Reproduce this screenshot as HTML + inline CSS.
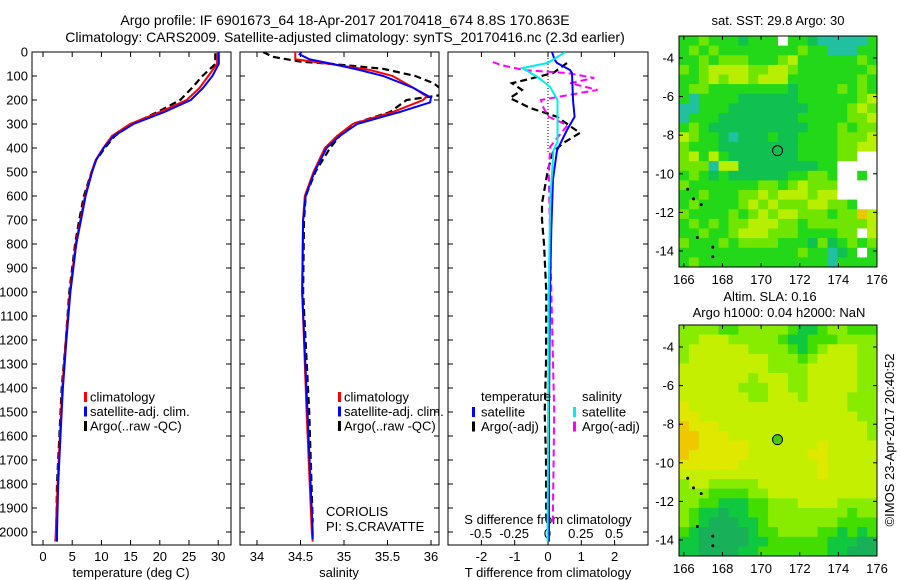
<!DOCTYPE html>
<html><head><meta charset="utf-8"><style>
html,body{margin:0;padding:0;background:#fff;}
svg{display:block;font-family:"Liberation Sans",sans-serif;}
</style></head><body>
<svg id="fig" width="900" height="580" viewBox="0 0 900 580" xmlns="http://www.w3.org/2000/svg">
<defs>
<clipPath id="c1"><rect x="32" y="52" width="199" height="493"/></clipPath>
<clipPath id="c2"><rect x="240" y="52" width="199" height="493"/></clipPath>
<clipPath id="c3"><rect x="448" y="52" width="200" height="493"/></clipPath>
</defs>
<text x="345" y="25" font-size="14" text-anchor="middle">Argo profile: IF 6901673_64 18-Apr-2017 20170418_674 8.8S 170.863E</text>
<text x="345" y="42" font-size="14" text-anchor="middle">Climatology: CARS2009. Satellite-adjusted climatology: synTS_20170416.nc (2.3d earlier)</text>
<g id="g1"></g>
<g id="g2"></g>
<g id="g3"></g>
<g id="m1"></g>
<g id="m2"></g>
</svg>
<script>
// ---------- data ----------
const tClimDepth=[0,50,100,150,200,250,300,350,400,450,500,600,700,800,900,1000,1200,1400,1600,1800,2000,2040];
const tClim=[29.9,29.8,28.3,26.8,24.6,20,14.9,11.8,10.3,9,8.3,7.2,6.4,5.6,5.1,4.6,3.9,3.3,2.9,2.5,2.2,2.1];
const tSat=[30.1,30.1,29.0,27.4,25.3,20.8,15.5,12.1,10.4,9.1,8.4,7.3,6.5,5.7,5.2,4.7,4.0,3.4,3.0,2.6,2.4,2.4];
const tArgoDepth=[5,50,100,150,200,250,300,350,400,450,500,600,700,800,900,1000,1200,1400,1600,1800,1960];
const tArgo=[29.5,29.5,27.3,25.5,23.5,19.6,15.3,12.3,10.6,9.1,8.3,7.0,6.2,5.5,5.0,4.5,3.9,3.2,2.8,2.4,2.3];
const sClimDepth=[0,30,50,75,100,150,185,200,250,300,350,400,500,600,700,1000,1500,2000,2040];
const sClim=[34.44,34.44,34.84,35.3,35.56,35.8,35.95,35.91,35.56,35.1,34.92,34.78,34.65,34.55,34.53,34.52,34.57,34.63,34.64];
const sSatDepth=[0,10,30,50,75,100,150,190,210,250,300,350,400,500,600,700,1000,1500,2000,2030];
const sSat=[34.51,34.49,34.6,34.87,35.18,35.45,35.8,36.0,35.99,35.64,35.15,34.95,34.8,34.66,34.56,34.53,34.52,34.58,34.64,34.64];
const sArgoDepth=[0,20,40,50,70,100,130,150,175,200,250,300,350,400,500,600,700,1000,1500,1960];
const sArgo=[34.07,34.18,34.5,34.87,35.45,35.82,36.03,36.1,36.2,35.72,35.53,35.1,34.95,34.84,34.67,34.56,34.54,34.53,34.6,34.64];
const dTSatDepth=[0,33,46,75,88,200,270,325,410,530,740,1000,1500,2040];
const dTSat=[0.12,0.2,0.27,0.66,0.72,0.75,0.8,0.57,0.27,0.15,0.1,0.06,0.03,0.03];
const dTArgoDepth=[46,88,130,158,192,233,270,317,337,380,417,490,630,700,800,1000,1300,1500,1700,1960];
const dTArgo=[0.57,0.15,-1.08,-0.78,-1.14,-0.54,0.27,0.75,0.96,0.45,0.15,0,-0.18,-0.18,-0.12,-0.05,-0.06,-0.1,-0.06,-0.05];
const dSSatDepth=[0,46,67,104,146,200,375,410,620,1000,2040];
const dSSat=[0.135,0,-0.19,-0.075,0.02,0.075,0.075,0.045,0.02,0.01,0.0];
const dSArgoDepth=[42,54,75,88,108,130,158,200,233,270,305,395,500,800,1500,1960];
const dSArgo=[-0.41,-0.35,-0.18,0.15,0.35,0.17,0.375,-0.05,-0.03,0.01,0.15,0.02,0.01,0.02,0.05,0.04];
const depthTicks=[0,100,200,300,400,500,600,700,800,900,1000,1100,1200,1300,1400,1500,1600,1700,1800,1900,2000];
const tTicks=[0,5,10,15,20,25,30];
const sTicks=[34,34.5,35,35.5,36];
const dTTicks=[-2,-1,0,1,2];
const dSTicks=[-0.5,-0.25,0,0.25,0.5];
const dSTickLabels=["-0.5","-0.25","0","0.25","0.5"];
const lonTicks=[166,168,170,172,174,176];
const latTicks=[-4,-6,-8,-10,-12,-14];
const argoLon=170.85, argoLat=-8.8;
const sstGrid=[
"11211101115110444441","12121111111121144411","11212221112311111121","21233332233211111112",
"11232332333111111121","12211111111011112121","14111100000011111123","44111000000001111232",
"41110000000011111223","12100000000001112122","32110400010011112223","21110000000011112233",
"23131000000011112255","22243300000000115555","12101000000112215515","21111111221232225555",
"11211122323332335555","12111123232223322155","21111212323322212263","12121223332212222223",
"11211233322211112253","21112122221110201212","11111111111121140151","12111111111111141111"];
const slaGrid=[
"ccccbbcccccbaabccbbb","ccdddcccccbaabbbcccc","cddddddccccbabcdddcc","cddddddddcccbcddddcc",
"dddddddddccccdddddcc","dddddddcdddccdddddcc","ddddddcccddccdddddcc","dddddddccdddcddddccc",
"eddddddddddddddddccc","eeddddddddddddddddcc","feeedddddddddddddddc","ffeeeddddddddddddddc",
"ffeeeeedddddddeddddd","feeeeeeddddddeeddddd","eeeeeeddddddddeddddd","ddddddddddddddeddddd",
"cddcccccdddddddddddd","cccbbbbccddddddddddd","ccbbaaabbcccddddcccc","cbaagaabbccccccccbcc",
"cbagggaabcccccccbbbb","bagggggabbccccbbabab","aagggggaabbbbbbaaagg","aaggggaabbbbbbbaaggg"];
// ---------- helpers ----------
const NS="http://www.w3.org/2000/svg";
function mk(parent,tag,attrs,txt){const e=document.createElementNS(NS,tag);for(const k in attrs)e.setAttribute(k,attrs[k]);if(txt!==undefined)e.textContent=txt;parent.appendChild(e);return e;}
const Y=d=>52+d*0.24;
const XT=t=>43+t*5.84;
const XS=s=>257+(s-34)*87;
const XdT=v=>548+v*33.3;
const XdS=v=>547.5+v*133.3;
function line(g,xs,ds,fx,color,dash,clip,name,w){
  const pts=xs.map((v,i)=>fx(v).toFixed(1)+","+Y(ds[i]).toFixed(1)).join(" ");
  const p=mk(g,"polyline",{points:pts,fill:"none",stroke:color,"stroke-width":w||2,"clip-path":"url(#"+clip+")"});
  if(dash)p.setAttribute("stroke-dasharray",dash);
  
  
}
function frame(g,x0,x1,name){
  const r=mk(g,"rect",{x:x0,y:52,width:x1-x0,height:493,fill:"none",stroke:"#000","stroke-width":1});
  
  
  depthTicks.forEach(d=>{mk(g,"line",{x1:x0,x2:x0+5,y1:Y(d),y2:Y(d),stroke:"#000"});mk(g,"line",{x1:x1-5,x2:x1,y1:Y(d),y2:Y(d),stroke:"#000"});});
}
function xticks(g,vals,labels,fx,name){
  vals.forEach((v,i)=>{const x=fx(v);mk(g,"line",{x1:x,x2:x,y1:545,y2:540,stroke:"#000"});mk(g,"line",{x1:x,x2:x,y1:52,y2:57,stroke:"#000"});
    const t=mk(g,"text",{x:x,y:561,"font-size":13,"text-anchor":"middle"},labels[i]);
    
    });
}
function legend(g,x,items){
  items.forEach((it,i)=>{const y=397+i*14.5;
    mk(g,"rect",{x:x,y:y-5,width:3,height:10,fill:it[0]});
    const t=mk(g,"text",{x:x+6,y:y+4.5,"font-size":13},it[1]);
    
    });
}
// ---------- panel 1 ----------
const g1=document.getElementById("g1");
frame(g1,32,231,"temperature-axes");
depthTicks.forEach(d=>{const t=mk(g1,"text",{x:28,y:Y(d)+4.5,"font-size":13,"text-anchor":"end"},String(d));
  
  });
xticks(g1,tTicks,tTicks.map(String),XT,"temperature-tick-label");
mk(g1,"text",{x:131,y:577,"font-size":13,"text-anchor":"middle"},"temperature (deg C)");
line(g1,tArgo,tArgoDepth,XT,"#000","7,4","c1","temperature-argo-line",2.2);
line(g1,tClim,tClimDepth,XT,"#f00",null,"c1","temperature-climatology-line");
line(g1,tSat,tClimDepth,XT,"#00f",null,"c1","temperature-satellite-line");
legend(g1,84,[["#f00","climatology"],["#00f","satellite-adj. clim."],["#000","Argo(..raw -QC)"]]);
// ---------- panel 2 ----------
const g2=document.getElementById("g2");
frame(g2,240,439,"salinity-axes");
xticks(g2,sTicks,sTicks.map(String),XS,"salinity-tick-label");
mk(g2,"text",{x:339,y:577,"font-size":13,"text-anchor":"middle"},"salinity");
line(g2,sArgo,sArgoDepth,XS,"#000","7,4","c2","salinity-argo-line",2.2);
line(g2,sClim,sClimDepth,XS,"#f00",null,"c2","salinity-climatology-line");
line(g2,sSat,sSatDepth,XS,"#00f",null,"c2","salinity-satellite-line");
legend(g2,338,[["#f00","climatology"],["#00f","satellite-adj. clim."],["#000","Argo(..raw -QC)"]]);
mk(g2,"text",{x:326,y:516,"font-size":13},"CORIOLIS");
mk(g2,"text",{x:326,y:531,"font-size":13},"PI: S.CRAVATTE");
// ---------- panel 3 ----------
const g3=document.getElementById("g3");
frame(g3,448,648,"difference-axes");
xticks(g3,dTTicks,dTTicks.map(String),XdT,"t-diff-tick-label");
dSTicks.forEach((v,i)=>{const t=mk(g3,"text",{x:XdS(v),y:538,"font-size":13,"text-anchor":"middle"},dSTickLabels[i]);
  
  });
mk(g3,"text",{x:548,y:524,"font-size":13,"text-anchor":"middle"},"S difference from climatology");
mk(g3,"text",{x:548,y:577,"font-size":13,"text-anchor":"middle"},"T difference from climatology");
mk(g3,"line",{x1:548,x2:548,y1:52,y2:Y(420),stroke:"#000","stroke-dasharray":"1,2"});
line(g3,dTArgo,dTArgoDepth,XdT,"#000","7,4","c3","t-diff-argo-line",2.2);
line(g3,dSArgo,dSArgoDepth,XdS,"#f0f","7,4","c3","s-diff-argo-line",2);
line(g3,dTSat,dTSatDepth,XdT,"#00f",null,"c3","t-diff-satellite-line");
line(g3,dSSat,dSSatDepth,XdS,"#0ee",null,"c3","s-diff-satellite-line");
mk(g3,"text",{x:481,y:401,"font-size":13},"temperature");
mk(g3,"text",{x:582,y:401,"font-size":13},"salinity");
[[472,"#00f","satellite",0],[472,"#000","Argo(-adj)",1],[573,"#0ee","satellite",0],[573,"#f0f","Argo(-adj)",1]].forEach(it=>{
  const y=412+it[3]*14.5;mk(g3,"rect",{x:it[0],y:y-5,width:3,height:10,fill:it[1]});
  const t=mk(g3,"text",{x:it[0]+9,y:y+4.5,"font-size":13},it[2]);
  
  });
// ---------- maps ----------
const sstColors={"0":"#10c050","1":"#22d818","2":"#70e600","3":"#b8ee00","4":"#20c0a0","5":"#ffffff","6":"#e8c800"};
const slaColors={"a":"#10c840","b":"#44dd00","c":"#88ec00","d":"#c4f000","e":"#e0e800","f":"#f0c800","g":"#18b058"};
const LON0=165.75,LON1=176,LAT0=-2.86,LAT1=-14.83;
function drawMap(id,top,grid,colors,filled,name){
  const g=document.getElementById(id);
  const x0=679,x1=877,y0=top,y1=top+231;
  const XL=l=>x0+(l-LON0)/(LON1-LON0)*(x1-x0);
  const YL=l=>y0+(l-LAT0)/(LAT1-LAT0)*(y1-y0);
  const nr=grid.length,nc=grid[0].length;
  for(let r=0;r<nr;r++)for(let c=0;c<nc;c++){
    const lo=LON0+c*(LON1-LON0)/nc, la=LAT0+r*(LAT1-LAT0)/nr;
    const lo2=LON0+(c+1)*(LON1-LON0)/nc, la2=LAT0+(r+1)*(LAT1-LAT0)/nr;
    const cell=mk(g,"rect",{x:XL(lo).toFixed(1),y:YL(la).toFixed(1),width:(XL(lo2)-XL(lo)+0.4).toFixed(1),height:(YL(la2)-YL(la)+0.4).toFixed(1),fill:colors[grid[r][c]]});
    
    
  }
  const fr=mk(g,"rect",{x:x0,y:y0,width:x1-x0,height:y1-y0,fill:"none",stroke:"#000"});
  
  
  lonTicks.forEach(l=>{const x=XL(l);mk(g,"line",{x1:x,x2:x,y1:y1,y2:y1-4,stroke:"#000"});mk(g,"line",{x1:x,x2:x,y1:y0,y2:y0+4,stroke:"#000"});
    const t=mk(g,"text",{x:x,y:y1+17,"font-size":13,"text-anchor":"middle"},String(l));
    
    });
  latTicks.forEach(l=>{const y=YL(l);mk(g,"line",{x1:x0,x2:x0+4,y1:y,y2:y,stroke:"#000"});mk(g,"line",{x1:x1-4,x2:x1,y1:y,y2:y,stroke:"#000"});
    const t=mk(g,"text",{x:674,y:y+4.5,"font-size":13,"text-anchor":"end"},String(l));
    
    });
  [[166.2,-10.8],[166.5,-11.3],[166.9,-11.6],[167.5,-13.8],[167.5,-14.3],[166.7,-13.3]].forEach(p=>mk(g,"circle",{cx:XL(p[0]),cy:YL(p[1]),r:1.5,fill:"#000"}));
  const c=mk(g,"circle",{cx:XL(argoLon),cy:YL(argoLat),r:5,fill:filled?"#44cc00":"none",stroke:"#000","stroke-width":1});
  
  
}
drawMap("m1",36,sstGrid,sstColors,false,"sst-map");
drawMap("m2",325,slaGrid,slaColors,true,"sla-map");
const fig=document.getElementById("fig");
mk(fig,"text",{x:778,y:25,"font-size":13,"text-anchor":"middle"},"sat. SST: 29.8 Argo: 30");
mk(fig,"text",{x:770,y:301,"font-size":13,"text-anchor":"middle"},"Altim. SLA: 0.16");
mk(fig,"text",{x:779,y:317,"font-size":13,"text-anchor":"middle"},"Argo h1000: 0.04 h2000: NaN");
mk(fig,"text",{x:894,y:440,"font-size":13,"text-anchor":"middle",transform:"rotate(-90 894 440)"},"©IMOS 23-Apr-2017 20:40:52");
</script>
</body></html>
